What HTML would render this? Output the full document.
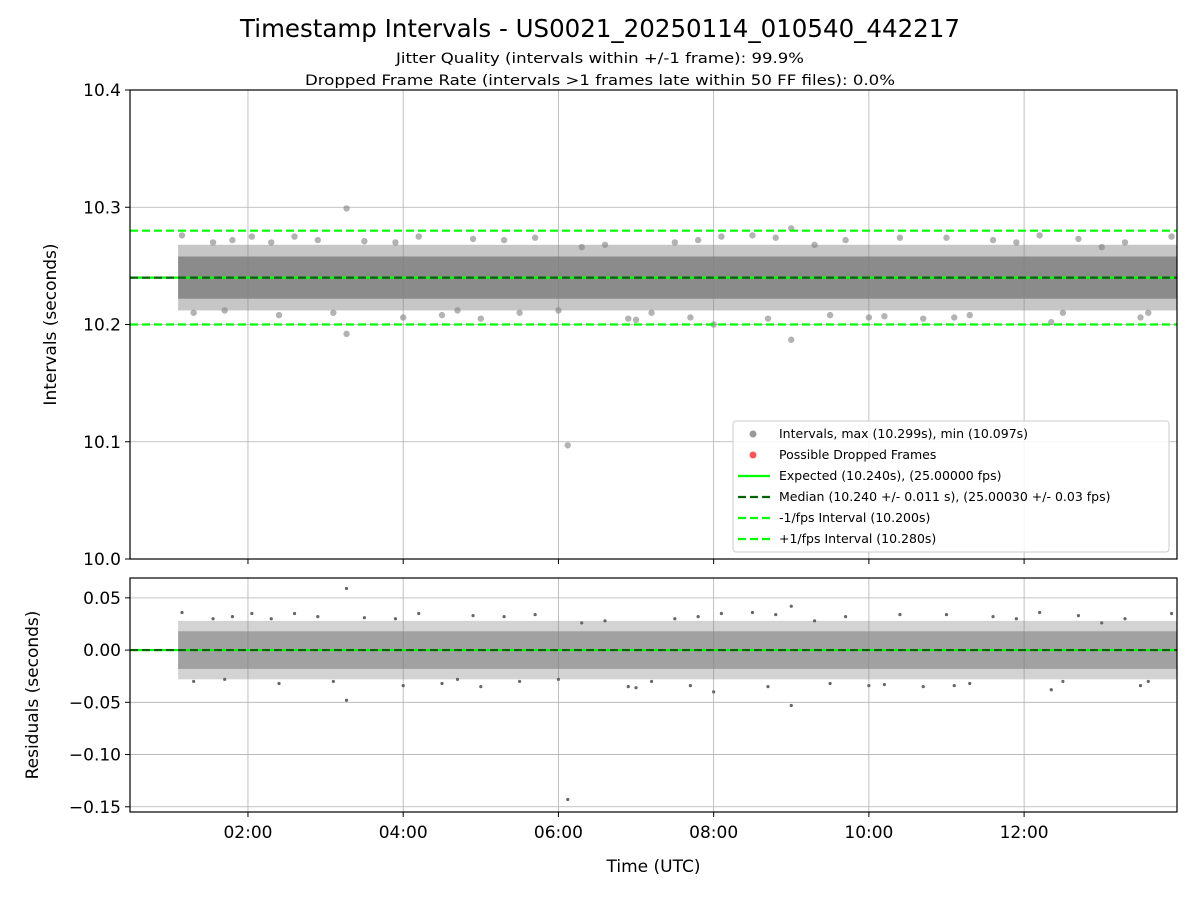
<!DOCTYPE html>
<html><head><meta charset="utf-8"><style>
body{margin:0;background:#fff;}
svg{display:block;font-family:"DejaVu Sans","Liberation Sans",sans-serif;}
</style></head><body>
<svg id="chart" width="1200" height="900">
<text x="600" y="37" text-anchor="middle" font-size="24.5">Timestamp Intervals - US0021_20250114_010540_442217</text>
<text x="600" y="63" text-anchor="middle" font-size="14.5" textLength="408" lengthAdjust="spacingAndGlyphs">Jitter Quality (intervals within +/-1 frame): 99.9%</text>
<text x="600" y="85" text-anchor="middle" font-size="14.5" textLength="590" lengthAdjust="spacingAndGlyphs">Dropped Frame Rate (intervals &gt;1 frames late within 50 FF files): 0.0%</text>
<g id="topg"></g>
<g id="botg"></g>
</svg>
<script>
// Data
const xTickHours=[2,4,6,8,10,12];
const xTickLabels=["02:00","04:00","06:00","08:00","10:00","12:00"];
const topTicks=[10.0,10.1,10.2,10.3,10.4];
const topTickLabels=["10.0","10.1","10.2","10.3","10.4"];
const botTicks=[0.05,0.0,-0.05,-0.10,-0.15];
const botTickLabels=["0.05","0.00","\u22120.05","\u22120.10","\u22120.15"];
const dataStart=1.1, dataEnd=13.97;
const expected=10.24, median=10.24, minusFps=10.2, plusFps=10.28;
const coreBand=[10.222,10.258];
const outerBand=[10.212,10.268];
const sampleTimes=[1.15,1.3,1.55,1.8,2.05,2.3,2.6,2.9,3.27,3.27,3.5,3.9,4.2,4.5,4.9,5.0,5.3,5.7,6.12,6.3,6.6,6.9,7.2,7.5,7.8,8.0,8.1,8.5,8.8,9.0,9.0,9.3,9.7,10.0,10.4,10.7,11.0,11.3,11.6,11.9,12.2,12.35,12.7,13.0,13.3,13.6,13.9,1.7,2.4,3.1,4.0,4.7,5.5,6.0,7.0,7.7,8.7,9.5,10.2,11.1,12.5,13.5];
const sampleValues=[10.276,10.21,10.27,10.272,10.275,10.27,10.275,10.272,10.299,10.192,10.271,10.27,10.275,10.208,10.273,10.205,10.272,10.274,10.097,10.266,10.268,10.205,10.21,10.27,10.272,10.2,10.275,10.276,10.274,10.282,10.187,10.268,10.272,10.206,10.274,10.205,10.274,10.208,10.272,10.27,10.276,10.202,10.273,10.266,10.27,10.21,10.275,10.212,10.208,10.21,10.206,10.212,10.21,10.212,10.204,10.206,10.205,10.208,10.207,10.206,10.21,10.206];

const NS="http://www.w3.org/2000/svg";
function mk(parent,tag,attrs){const e=document.createElementNS(NS,tag);for(const k in attrs)e.setAttribute(k,attrs[k]);parent.appendChild(e);return e;}
const L=130,R=1177;
const xS=h=>L+(h-0.48)*(R-L)/(13.97-0.48);
const topP={t:90,b:559,lo:10.0,hi:10.4};
const botP={t:578,b:812,lo:-0.155,hi:0.069};
const yT=v=>topP.b-(v-topP.lo)/(topP.hi-topP.lo)*(topP.b-topP.t);
const yB=v=>botP.b-(v-botP.lo)/(botP.hi-botP.lo)*(botP.b-botP.t);

function panel(g,P,yS,ticks,labels,ylabel,ylabelName,labX){
  xTickHours.forEach((h)=>{const l=mk(g,'line',{x1:xS(h),x2:xS(h),y1:P.t,y2:P.b,stroke:'#b0b0b0','stroke-width':0.8});
    
    });
  ticks.forEach((v,i)=>{const y=yS(v);
    const l=mk(g,'line',{x1:L,x2:R,y1:y,y2:y,stroke:'#b0b0b0','stroke-width':0.8});
    
    
    mk(g,'line',{x1:L-5,x2:L,y1:y,y2:y,stroke:'#000'});
    const t=mk(g,'text',{x:L-9,y:y+6,'text-anchor':'end','font-size':17});t.textContent=labels[i];
    
    });
  const lab=mk(g,'text',{transform:`translate(${labX},${(P.t+P.b)/2}) rotate(-90)`,'text-anchor':'middle','font-size':17});
  lab.textContent=ylabel;
  
  
}
function frame(g,P){const r=mk(g,'rect',{x:L,y:P.t,width:R-L,height:P.b-P.t,fill:'none',stroke:'#000','stroke-width':1.2});
  
  }

const gt=document.getElementById('topg'), gb=document.getElementById('botg');
panel(gt,topP,yT,topTicks,topTickLabels,'Intervals (seconds)','y-axis-title-intervals',56);
panel(gb,botP,yB,botTicks,botTickLabels,'Residuals (seconds)','y-axis-title-residuals',38);

function band(g,yS,lohi,op,name,off){const r=mk(g,'rect',{x:xS(dataStart),width:xS(dataEnd)-xS(dataStart),y:yS(lohi[1]-off),height:yS(lohi[0]-off)-yS(lohi[1]-off),fill:'#808080',opacity:op});
  
  }
band(gt,yT,outerBand,0.45,'interval-outer-band',0);
band(gt,yT,coreBand,0.85,'interval-core-band',0);
band(gb,yB,outerBand,0.35,'residual-outer-band',median);
band(gb,yB,coreBand,0.6,'residual-core-band',median);

sampleTimes.forEach((h,i)=>{
  const c=mk(gt,'circle',{cx:xS(h),cy:yT(sampleValues[i]),r:3.2,fill:'#808080','fill-opacity':0.6});
  
  
  const d=mk(gb,'circle',{cx:xS(h),cy:yB(sampleValues[i]-median),r:1.6,fill:'#666'});
  
  
});

function hline(g,y,color,dash,name,w){const l=mk(g,'line',{x1:L,x2:R,y1:y,y2:y,stroke:color,'stroke-width':w||2.2});if(dash)l.setAttribute('stroke-dasharray',dash);
  
  }
hline(gt,yT(expected),'#00ff00',null,'expected-line');
hline(gt,yT(median),'#006400','8,4','median-line');
hline(gt,yT(minusFps),'#00ff00','8,4','minus-fps-line');
hline(gt,yT(plusFps),'#00ff00','8,4','plus-fps-line');
hline(gb,yB(0),'#00ff00',null,'residual-zero-line');
hline(gb,yB(0),'#006400','8,4','residual-median-line');

frame(gt,topP);frame(gb,botP);
xTickHours.forEach((h,i)=>{
  mk(gt,'line',{x1:xS(h),x2:xS(h),y1:topP.b,y2:topP.b+5,stroke:'#000'});
  mk(gb,'line',{x1:xS(h),x2:xS(h),y1:botP.b,y2:botP.b+5,stroke:'#000'});
  const t=mk(gb,'text',{x:xS(h),y:botP.b+26,'text-anchor':'middle','font-size':17});t.textContent=xTickLabels[i];
  
  
});
const xl=mk(gb,'text',{x:(L+R)/2,y:872,'text-anchor':'middle','font-size':17});xl.textContent='Time (UTC)';



const lg=mk(gt,'g',{});


mk(lg,'rect',{x:733,y:421,width:436,height:131,rx:3,fill:'#fff','fill-opacity':0.85,stroke:'#ccc'});
const entries=[['Intervals, max (10.299s), min (10.097s)','dot','#999'],['Possible Dropped Frames','dot','#f55'],['Expected (10.240s), (25.00000 fps)','line','#00ff00'],['Median (10.240 +/- 0.011 s), (25.00030 +/- 0.03 fps)','dash','#006400'],['-1/fps Interval (10.200s)','dash','#00ff00'],['+1/fps Interval (10.280s)','dash','#00ff00']];
entries.forEach((e,i)=>{const y=434+i*21;
  const eg=mk(lg,'g',{});
  
  
  if(e[1]==='dot')mk(eg,'circle',{cx:753,cy:y,r:3.5,fill:e[2]});
  else{const l=mk(eg,'line',{x1:738,x2:770,y1:y,y2:y,stroke:e[2],'stroke-width':2.2});if(e[1]==='dash')l.setAttribute('stroke-dasharray','8,4');}
  const t=mk(eg,'text',{x:779,y:y+4,'font-size':12.5});t.textContent=e[0];});
</script>
</body></html>
